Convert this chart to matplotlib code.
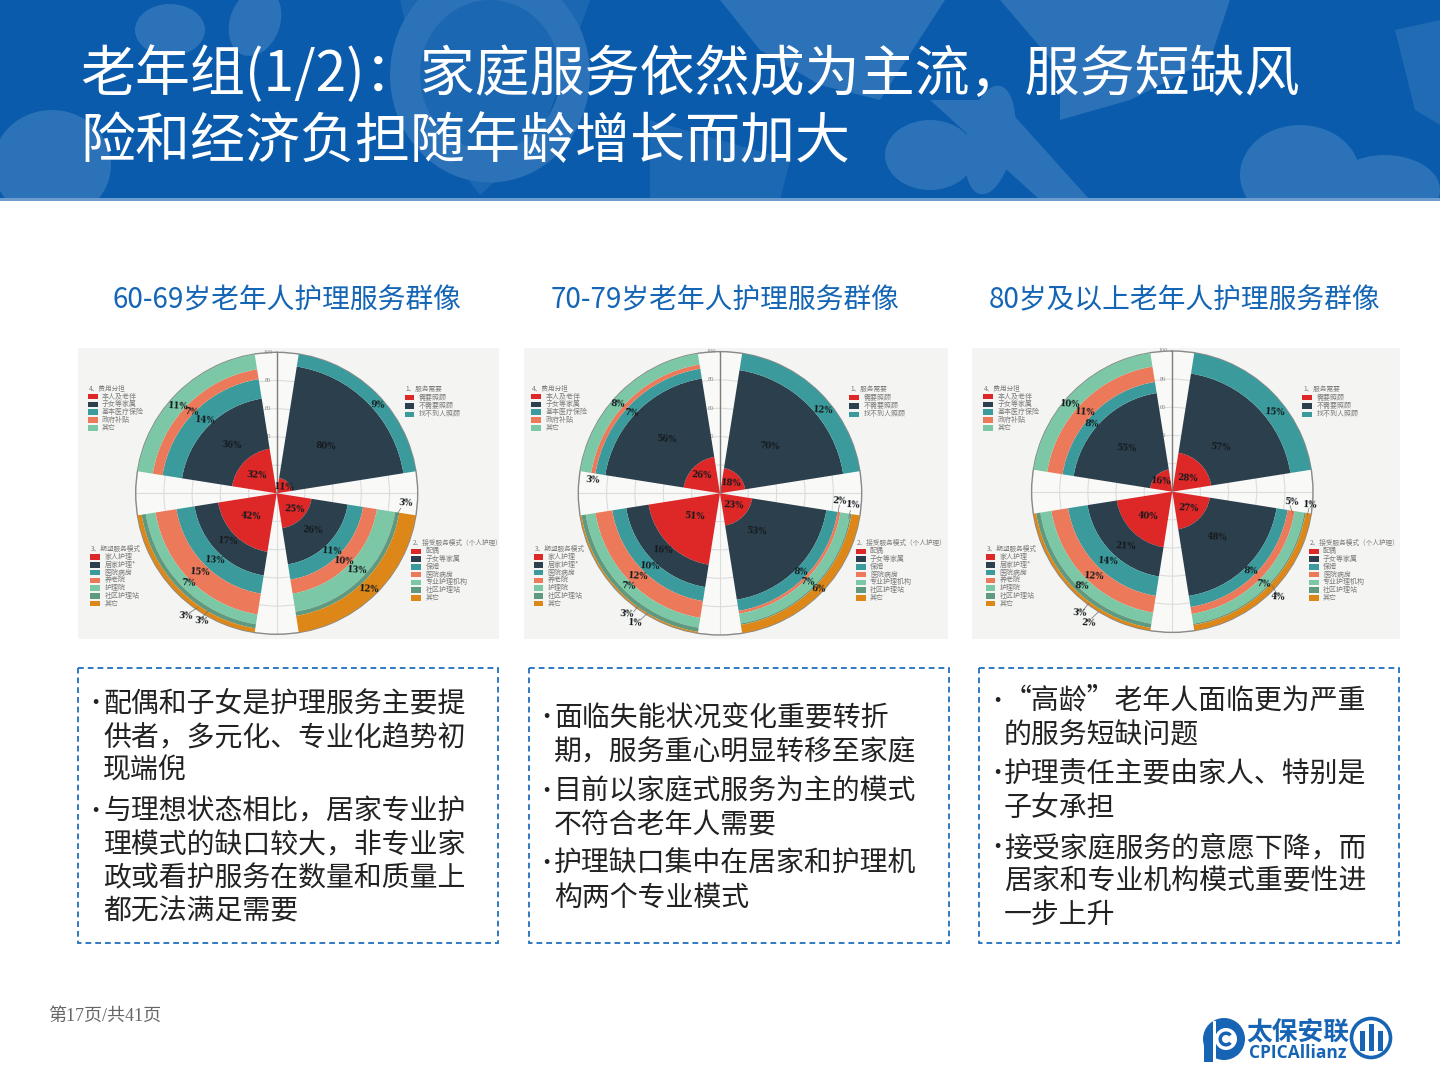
import numpy as np
import matplotlib
matplotlib.use('Agg')
import matplotlib.pyplot as plt
from matplotlib.patches import Rectangle, Ellipse, Polygon, Circle, Wedge

plt.rcParams['font.family'] = ['Noto Sans CJK SC', 'DejaVu Sans']

# ---------- data ----------
need_60 = [11, 80, 9]
accept_60 = [25, 26, 11, 10, 13, 3, 12]
expect_60 = [42, 17, 13, 15, 7, 3, 3]
cost_60 = [32, 36, 14, 7, 11]
need_70 = [18, 70, 12]
accept_70 = [23, 53, 8, 2, 7, 1, 6]
expect_70 = [51, 16, 10, 12, 7, 3, 1]
cost_70 = [26, 56, 7, 3, 8]
need_80 = [28, 57, 15]
accept_80 = [27, 48, 8, 5, 7, 1, 4]
expect_80 = [40, 21, 14, 12, 8, 3, 2]
cost_80 = [16, 55, 8, 11, 10]

need_labels = ['需要照顾', '不需要照顾', '找不到人照顾']
accept_labels = ['配偶', '子女等家属', '保姆', '医院病房', '专业护理机构', '社区护理站', '其它']
expect_labels = ['家人护理', '居家护理*', '医院病房', '养老院', '护理院', '社区护理站', '其它']
cost_labels = ['本人及老伴', '子女等家属', '基本医疗保险', '政府补贴', '其它']
legend_titles = ['1、服务需要', '2、接受服务模式（个人护理）', '3、期望服务模式', '4、费用分担']

chart_titles = ['60-69岁老年人护理服务群像', '70-79岁老年人护理服务群像', '80岁及以上老年人护理服务群像']
slide_title = ['老年组(1/2)：家庭服务依然成为主流，服务短缺风', '险和经济负担随年龄增长而加大']

box_1 = [('•', '配偶和子女是护理服务主要提'), ('', '供者，多元化、专业化趋势初'), ('', '现端倪'),
         ('•', '与理想状态相比，居家专业护'), ('', '理模式的缺口较大，非专业家'),
         ('', '政或看护服务在数量和质量上'), ('', '都无法满足需要')]
box_2 = [('•', '面临失能状况变化重要转折'), ('', '期，服务重心明显转移至家庭'),
         ('•', '目前以家庭式服务为主的模式'), ('', '不符合老年人需要'),
         ('•', '护理缺口集中在居家和护理机'), ('', '构两个专业模式')]
box_3 = [('•', '“高龄”老年人面临更为严重'), ('', '的服务短缺问题'),
         ('•', '护理责任主要由家人、特别是'), ('', '子女承担'),
         ('•', '接受家庭服务的意愿下降，而'), ('', '居家和专业机构模式重要性进'), ('', '一步上升')]

# ---------- style / layout ----------
RED, DARK, TEAL, CORAL, MINT, SAGE, ORANGE = ('#de2727', '#2c3f4d', '#3b9b9c', '#ec7a5a',
                                              '#7cc7a6', '#5f9a80', '#dc8718')
COLORS = [RED, DARK, TEAL, CORAL, MINT, SAGE, ORANGE]
BLUE = '#0a5bab'
BLUE_LIGHT = '#2b72b8'
TEXT_BLUE = '#1465b5'
LOGO_BLUE = '#1664b3'
LEG_GRAY = '#7c7c7c'

W, H = 1440, 1080
fig = plt.figure(figsize=(W / 100, H / 100), dpi=100, facecolor='white')


def overlay(z):
    a = fig.add_axes([0, 0, 1, 1], zorder=z)
    a.set_xlim(0, W)
    a.set_ylim(H, 0)
    a.axis('off')
    a.patch.set_alpha(0)
    return a


bg = overlay(0)
fg = overlay(5)

# ---------- header ----------
bg.add_patch(Rectangle((0, 0), W, 198, fc=BLUE, ec='none', zorder=1))
shapes = [
    Ellipse((52, 165), 118, 110, fc=BLUE_LIGHT),
    Ellipse((170, 30), 70, 52, fc=BLUE_LIGHT),
    Ellipse((255, 22), 50, 70, angle=20, fc=BLUE_LIGHT),
    Ellipse((490, 75), 200, 215, fc=BLUE_LIGHT),
    Ellipse((490, 75), 140, 150, fc=BLUE),
    Polygon([(400, 0), (590, 0), (540, 140), (480, 195), (430, 130)], fc=BLUE_LIGHT, alpha=.55),
    Polygon([(720, 0), (945, 0), (880, 100), (820, 85), (760, 50)], fc=BLUE_LIGHT),
    Polygon([(1000, 0), (1230, 0), (1210, 60), (1130, 100), (1060, 120), (1060, 70)], fc=BLUE_LIGHT),
    Ellipse((930, 155), 90, 70, fc=BLUE_LIGHT),
    Ellipse((990, 140), 48, 110, angle=10, fc=BLUE_LIGHT),
    Polygon([(930, 100), (1000, 100), (1090, 200), (1040, 200)], fc=BLUE_LIGHT),
    Polygon([(650, 120), (790, 160), (780, 200), (650, 200)], fc=BLUE_LIGHT, alpha=.6),
    Ellipse((1300, 175), 120, 100, fc=BLUE_LIGHT),
    Ellipse((1385, 190), 110, 70, fc=BLUE_LIGHT),
    Polygon([(1395, 30), (1440, 20), (1440, 125), (1415, 110)], fc=BLUE_LIGHT, alpha=.7),
]
for s in shapes:
    s.set_edgecolor('none')
    s.set_zorder(2)
    bg.add_patch(s)
bg.add_patch(Rectangle((0, 198), W, 3, fc='#6d9dcc', ec='none', zorder=3))
bg.add_patch(Rectangle((0, 201), W, 40, fc='white', ec='none', zorder=3))
for line, y in zip(slide_title, [75, 142]):
    fg.text(80, y, line, color='white', fontsize=39.6, va='center', ha='left')

# ---------- charts ----------
CHARTS = [
    dict(px=(78, 348, 421, 291), c=(276.7, 493.3), R=141, title_x=287, origin=(78, 345),
         data=(need_60, accept_60, expect_60, cost_60),
         leg=dict(l1=(980, 133), l2=(1000, 594), l3=(37, 611), l4=(30, 130)),
         lab=[[(619, 428), (743, 305), (898, 180)],
              [(651, 494), (704, 556), (762, 618), (798, 649), (839, 676), (984, 473), (873, 733)],
              [(520, 515), (450, 588), (412, 645), (368, 682), (331, 713), (322, 813), (370, 828)],
              [(536, 391), (462, 300), (383, 227), (341, 202), (300, 184)]],
         lead=[((968, 490), (955, 512)), ((340, 800), (358, 788)), ((375, 815), (392, 796))]),
    dict(px=(524, 348, 424, 291), c=(720, 493.3), R=141.7, title_x=725, origin=(522, 345),
         data=(need_70, accept_70, expect_70, cost_70),
         leg=dict(l1=(982, 133), l2=(1002, 594), l3=(35, 611), l4=(28, 130)),
         lab=[[(627, 416), (742, 305), (904, 195)],
              [(635, 481), (703, 558), (836, 681), (952, 468), (858, 712), (994, 481), (891, 732)],
              [(518, 515), (424, 617), (385, 663), (349, 693), (321, 724), (315, 806), (341, 835)],
              [(538, 390), (434, 284), (328, 204), (211, 406), (288, 177)]],
         lead=[((952, 480), (948, 505)), ((985, 497), (980, 520)), ((335, 800), (347, 785)), ((355, 825), (376, 805))]),
    dict(px=(972, 348, 428, 291), c=(1172.3, 491.7), R=140.7, title_x=1185, origin=(970, 345),
         data=(need_80, accept_80, expect_80, cost_80),
         leg=dict(l1=(997, 133), l2=(1017, 594), l3=(47, 611), l4=(40, 130)),
         lab=[[(654, 401), (753, 306), (915, 203)],
              [(657, 490), (742, 578), (844, 677), (965, 471), (880, 716), (1021, 479), (925, 755)],
              [(535, 514), (467, 605), (416, 648), (373, 693), (336, 722), (328, 805), (356, 834)],
              [(574, 410), (470, 310), (366, 236), (346, 201), (302, 178)]],
         lead=[((960, 482), (968, 505)), ((1017, 490), (1012, 510)), ((920, 745), (905, 720)),
               ((340, 795), (356, 775)), ((365, 820), (386, 800))]),
]

MIDS = np.deg2rad([45, 135, 225, 315])
WIDTH = np.deg2rad(72)


def legend(origin, pos, title, labels, pitch):
    ox, oy = origin
    x, y = pos
    fg.text(ox + (x + 3) / 3, oy + y / 3, title, fontsize=4.8, color=LEG_GRAY, va='center', ha='left')
    for i, lab in enumerate(labels):
        yc = oy + (y + 25 + i * pitch) / 3
        fg.add_patch(Rectangle((ox + x / 3, yc - 2.8), 9.6, 5.6, fc=COLORS[i], ec='none'))
        fg.text(ox + (x + 42) / 3, yc, lab, fontsize=5, color=LEG_GRAY, va='center', ha='left')


for ch in CHARTS:
    x, y, w, h = ch['px']
    bg.add_patch(Rectangle((x, y), w, h, fc='#f4f4f2', ec='none', zorder=4))
    cx, cy = ch['c']
    R = ch['R']
    ax = fig.add_axes([(cx - R) / W, 1 - (cy + R) / H, 2 * R / W, 2 * R / H],
                      projection='polar', zorder=2)
    ax.set_theta_zero_location('N')
    ax.set_theta_direction(-1)
    ax.set_facecolor('#f9f9f8')
    ax.set_ylim(0, 100)
    ax.set_yticks([20, 40, 60, 80, 100])
    ax.set_yticklabels([])
    ax.set_xticks(np.deg2rad([0, 90, 180, 270]))
    ax.set_xticklabels([])
    ax.grid(True, color='#dcdcdc', lw=0.8)
    ax.tick_params(axis='x', length=3, color='#777777', width=0.8)
    ax.tick_params(axis='y', length=0)
    ax.spines['polar'].set_edgecolor('#8a8a8a')
    ax.spines['polar'].set_linewidth(1.0)
    ax.set_axisbelow(True)

    for mid, vals in zip(MIDS, ch['data']):
        bottom = 0
        for v, col in zip(vals, COLORS):
            ax.bar(mid, v, width=WIDTH, bottom=bottom, color=col, lw=0, zorder=3)
            bottom += v
    ax.plot([0, 0], [0, 100], color='#7e7e7e', lw=1.0, zorder=4)
    for r in [40, 60, 80, 100]:
        ax.annotate(str(r), (0, r), xytext=(-6.5, 0), textcoords='offset points', fontsize=4.6,
                    color='#8a8a8a', ha='center', va='center', zorder=2.5, annotation_clip=False,
                    family=['Liberation Serif', 'DejaVu Serif'])

    ox, oy = ch['origin']
    for vals, pts in zip(ch['data'], ch['lab']):
        for v, (zx, zy) in zip(vals, pts):
            fg.text(ox + zx / 3, oy + zy / 3, f'{v}%', fontsize=6.2, fontweight='bold',
                    family=['DejaVu Serif'], color='#151a1e', ha='center', va='center', rotation=-4)
    for (p, q) in ch['lead']:
        fg.plot([ox + p[0] / 3, ox + q[0] / 3], [oy + p[1] / 3, oy + q[1] / 3], color='#6f6f6f', lw=0.5)

    lg = ch['leg']
    legend((ox, oy), lg['l1'], legend_titles[0], need_labels, 25)
    legend((ox, oy), lg['l2'], legend_titles[1], accept_labels, 23.3)
    legend((ox, oy), lg['l3'], legend_titles[2], expect_labels, 23.3)
    legend((ox, oy), lg['l4'], legend_titles[3], cost_labels, 23.3)

for t, ch in zip(chart_titles, CHARTS):
    fg.text(ch['title_x'], 300, t, color=TEXT_BLUE, fontsize=20, ha='center', va='center', fontweight='medium')

# ---------- text boxes ----------
BOXES = [
    dict(x=78, w=420, tx=103, bx=95, lines=box_1, ys=[704, 738, 771, 811, 845, 878, 911]),
    dict(x=529, w=420, tx=554, bx=546, lines=box_2, ys=[718, 752, 791, 825, 864, 898]),
    dict(x=979, w=420, tx=1004, bx=997, lines=box_3, ys=[701, 735, 774, 808, 848, 881, 915]),
]
for b in BOXES:
    fg.add_patch(Rectangle((b['x'], 668), b['w'], 275, fc='none', ec='#1f6fbc', lw=1.3,
                           ls=(0, (3.2, 2.2))))
    for (bul, line), yy in zip(b['lines'], b['ys']):
        if bul:
            fg.text(b['bx'], yy, bul, fontsize=16, color='#222222', ha='center', va='center')
        fg.text(b['tx'], yy, line, fontsize=20.1, color='#222222', ha='left', va='center')

# ---------- footer ----------
fg.text(48, 1016, '第17页/共41页', fontsize=13, color='#666666', ha='left', va='center',
        family=['Liberation Serif', 'Noto Sans CJK SC'])

# logo
fg.add_patch(Circle((1224, 1039), 21, fc=LOGO_BLUE, ec='none'))
fg.add_patch(Rectangle((1204, 1039), 9, 23, fc=LOGO_BLUE, ec='none'))
fg.add_patch(Rectangle((1213, 1021), 3, 41, fc='white', ec='none'))
fg.add_patch(Circle((1226, 1039), 11, fc='white', ec='none'))
fg.add_patch(Wedge((1226, 1039), 7.5, 40, 320, width=3.5, fc=LOGO_BLUE, ec='none'))
fg.text(1298, 1033, '太保安联', fontsize=18.5, fontweight='bold', color=LOGO_BLUE, ha='center', va='center')
fg.text(1298, 1053, 'CPICAllianz', fontsize=12.5, fontweight='bold', color=LOGO_BLUE, ha='center', va='center',
        family=['Open Sans', 'DejaVu Sans'])
fg.add_patch(Circle((1371, 1038), 19.5, fc='none', ec=LOGO_BLUE, lw=2.6))
for bx_, top in zip([1359.5, 1368.5, 1377.5], [1031, 1024, 1031]):
    fg.add_patch(Rectangle((bx_, top), 5.5, 1051 - top, fc=LOGO_BLUE, ec='none'))

fig.savefig('out.png', dpi=100)
